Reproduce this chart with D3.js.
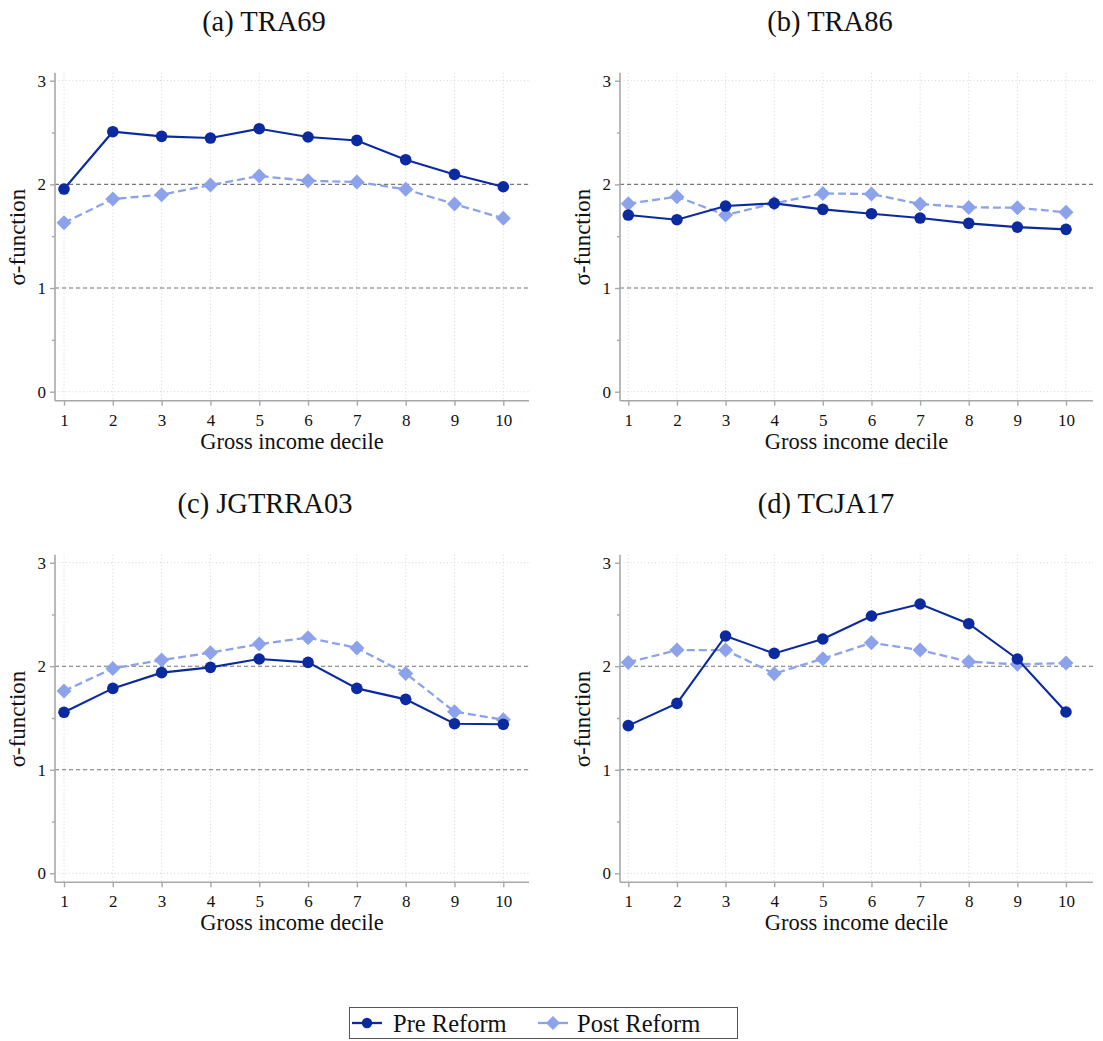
<!DOCTYPE html>
<html><head><meta charset="utf-8">
<script src="https://cdn.jsdelivr.net/npm/d3@7"></script>
<style>body{margin:0;background:#fff}svg{display:block}</style>
</head><body>
<svg id="chart" width="1103" height="1041"></svg>
<script>
const deciles = [1,2,3,4,5,6,7,8,9,10];
const yTicks = [0,1,2,3];
const titles = ["(a) TRA69","(b) TRA86","(c) JGTRRA03","(d) TCJA17"];
const seriesNames = ["Pre Reform","Post Reform"];
const preA  = [1.955,2.508,2.463,2.447,2.537,2.457,2.424,2.238,2.096,1.977];
const postA = [1.630,1.859,1.900,1.994,2.080,2.035,2.023,1.952,1.810,1.672];
const preB  = [1.704,1.659,1.791,1.817,1.759,1.717,1.675,1.624,1.588,1.566];
const postB = [1.814,1.881,1.704,1.817,1.913,1.907,1.810,1.778,1.775,1.730];
const preC  = [1.555,1.786,1.938,1.989,2.070,2.037,1.786,1.680,1.445,1.439];
const postC = [1.761,1.979,2.060,2.131,2.214,2.276,2.176,1.931,1.561,1.484];
const preD  = [1.426,1.641,2.292,2.124,2.263,2.485,2.601,2.411,2.070,1.558];
const postD = [2.037,2.156,2.156,1.928,2.073,2.227,2.156,2.044,2.018,2.031];

const preCol = "#0b2a9f", postCol = "#8ca3ec";
const serif = "'Liberation Serif','DejaVu Serif',serif";
const svg = d3.select("#chart");

const panels = [
  {title:titles[0], pre:preA, post:postA, xr:[64,503.3], ax:[55,529], yr:[391.7,80.7], tx:264},
  {title:titles[1], pre:preB, post:postB, xr:[628.3,1066], ax:[620,1093], yr:[391.7,80.7], tx:830},
  {title:titles[2], pre:preC, post:postC, xr:[64,503.3], ax:[55,529], yr:[873.3,562.7], tx:265},
  {title:titles[3], pre:preD, post:postD, xr:[628.3,1066], ax:[620,1093], yr:[873.3,562.7], tx:826}
];

function diamond(g, x, y, s, col){
  g.append("path").attr("d",`M${x},${y-s}L${x+s},${y}L${x},${y+s}L${x-s},${y}Z`).attr("fill",col);
}

panels.forEach(p=>{
  const x = d3.scaleLinear().domain([1,10]).range(p.xr);
  const y = d3.scaleLinear().domain([0,3]).range(p.yr);
  const g = svg.append("g");
  const yTop = y(3)-8, xAxisY = y(0)+9;
  g.selectAll(".vg").data(deciles).enter().append("line")
    .attr("x1",d=>x(d)).attr("x2",d=>x(d)).attr("y1",yTop).attr("y2",xAxisY)
    .attr("stroke","#d4d4d4").attr("stroke-width",1).attr("stroke-dasharray","1,2.5");
  g.selectAll(".hg").data(yTicks).enter().append("line")
    .attr("x1",p.ax[0]).attr("x2",p.ax[1]).attr("y1",d=>y(d)).attr("y2",d=>y(d))
    .attr("stroke","#d4d4d4").attr("stroke-width",1).attr("stroke-dasharray","1,2.5");
  g.selectAll(".rl").data([1,2]).enter().append("line")
    .attr("x1",p.ax[0]).attr("x2",p.ax[1]).attr("y1",d=>y(d)).attr("y2",d=>y(d))
    .attr("stroke","#7a7a7a").attr("stroke-width",1.1).attr("stroke-dasharray","4,3");
  // y axis
  const yAxis = d3.axisLeft(y).tickValues(yTicks).tickSize(5).tickPadding(4).tickFormat(d3.format("d"));
  const yg = g.append("g").attr("transform",`translate(${p.ax[0]},0)`).call(yAxis);
  yg.select(".domain").remove();
  yg.append("line").attr("x1",0).attr("x2",0).attr("y1",yTop).attr("y2",xAxisY).attr("stroke","#a8a8a8").attr("stroke-width",1.6);
  yg.selectAll(".tick line").attr("stroke","#a8a8a8").attr("stroke-width",1.4);
  yg.selectAll(".tick text").attr("font-family",serif).attr("font-size",17).attr("fill","#111");
  const yMinor = d3.axisLeft(y).tickValues([0.5,1.5,2.5]).tickSize(3).tickFormat("");
  const ym = g.append("g").attr("transform",`translate(${p.ax[0]},0)`).call(yMinor);
  ym.select(".domain").remove();
  ym.selectAll(".tick line").attr("stroke","#a8a8a8").attr("stroke-width",1.4);
  // x axis
  const xAxis = d3.axisBottom(x).tickValues(deciles).tickSize(5).tickPadding(8).tickFormat(d3.format("d"));
  const xg = g.append("g").attr("transform",`translate(0,${xAxisY})`).call(xAxis);
  xg.select(".domain").remove();
  xg.append("line").attr("x1",p.ax[0]).attr("x2",p.ax[1]).attr("y1",0).attr("y2",0).attr("stroke","#a8a8a8").attr("stroke-width",1.6);
  xg.selectAll(".tick line").attr("stroke","#a8a8a8").attr("stroke-width",1.4);
  xg.selectAll(".tick text").attr("font-family",serif).attr("font-size",17).attr("fill","#111");
  // axis titles
  g.append("text").attr("x",(p.ax[0]+p.ax[1])/2).attr("y",xAxisY+48).attr("text-anchor","middle")
    .attr("font-family",serif).attr("font-size",22.5).attr("fill","#111").text("Gross income decile");
  g.append("text").attr("transform",`translate(${p.ax[0]-30},${(p.yr[0]+p.yr[1])/2+1}) rotate(-90)`)
    .attr("text-anchor","middle").attr("font-family",serif).attr("font-size",23).attr("fill","#111").text("σ-function");
  // panel title
  g.append("text").attr("x",p.tx).attr("y",p.yr[1]-50).attr("text-anchor","middle")
    .attr("font-family",serif).attr("font-size",28.5).attr("fill","#111").text(p.title);
  // series
  const line = d3.line().x((d,i)=>x(deciles[i])).y(d=>y(d));
  g.append("path").datum(p.post).attr("d",line).attr("fill","none").attr("stroke",postCol)
    .attr("stroke-width",2.3).attr("stroke-dasharray","8,4");
  p.post.forEach((v,i)=>diamond(g,x(deciles[i]),y(v),7.5,postCol));
  g.append("path").datum(p.pre).attr("d",line).attr("fill","none").attr("stroke",preCol).attr("stroke-width",2.1);
  g.selectAll(".pre").data(p.pre).enter().append("circle")
    .attr("cx",(d,i)=>x(deciles[i])).attr("cy",d=>y(d)).attr("r",5.8).attr("fill",preCol);
});

// legend
const lg = svg.append("g");
lg.append("rect").attr("x",349.5).attr("y",1007.5).attr("width",388).attr("height",31)
  .attr("fill","#fff").attr("stroke","#555").attr("stroke-width",1);
const legItems = [
  {name:seriesNames[0], col:preCol, x0:352, tx:393, type:"c"},
  {name:seriesNames[1], col:postCol, x0:538, tx:577, type:"d"}
];
legItems.forEach(it=>{
  lg.append("line").attr("x1",it.x0).attr("x2",it.x0+30).attr("y1",1023).attr("y2",1023)
    .attr("stroke",it.col).attr("stroke-width",2.3);
  if(it.type==="c") lg.append("circle").attr("cx",it.x0+15).attr("cy",1023).attr("r",5.2).attr("fill",it.col);
  else diamond(lg,it.x0+15,1023,7,it.col);
  lg.append("text").attr("x",it.tx).attr("y",1031.5).attr("font-family",serif).attr("font-size",24.5)
    .attr("fill","#111").text(it.name);
});
</script>
</body></html>
